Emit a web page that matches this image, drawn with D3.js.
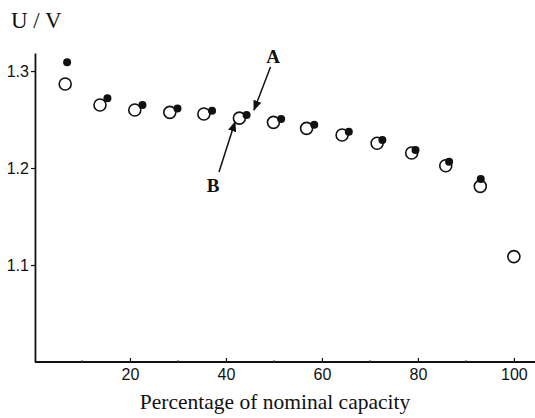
<!DOCTYPE html>
<html>
<head>
<meta charset="utf-8">
<script src="https://cdn.jsdelivr.net/npm/d3@7"></script>
<style>
  body { margin: 0; background: #fff; }
  svg { display: block; }
  .tick text { font-family: "Liberation Sans", Arial, sans-serif; font-size: 16px; fill: #111; }
</style>
</head>
<body>
<svg id="chart" width="535" height="418"></svg>
<script>
// capacity (%) and cell voltage for the two measurement sets
var capacityA = [6.9, 15.3, 22.6, 29.9, 37.1, 44.3, 51.5, 58.4, 65.6, 72.6, 79.5, 86.5, 93.1];
var voltageA  = [1.309, 1.272, 1.265, 1.2615, 1.259, 1.2546, 1.2505, 1.2446, 1.2374, 1.2289, 1.2186, 1.2065, 1.1887];

var capacityB = [6.5, 13.75, 21.0, 28.3, 35.4, 42.8, 49.9, 56.8, 64.2, 71.5, 78.7, 85.8, 93.0, 100.0];
var voltageB  = [1.2866, 1.265, 1.2598, 1.2574, 1.2557, 1.2515, 1.2471, 1.2409, 1.234, 1.2255, 1.2155, 1.2024, 1.1811, 1.1086];

var xTicks = [20, 40, 60, 80, 100];
var yTicks = [1.1, 1.2, 1.3];

var svg = d3.select('#chart');

var x = d3.scaleLinear().domain([0, 104.4]).range([34, 535]);
var y = d3.scaleLinear().domain([1.0, 1.3186]).range([362, 53]);

// axes
var xAxis = svg.append('g')
  .attr('transform', 'translate(0,' + y(1.0) + ')')
  .call(d3.axisBottom(x).tickValues(xTicks).tickSizeInner(-4).tickSizeOuter(0).tickPadding(7).tickFormat(d3.format('d')));
xAxis.select('.domain').attr('stroke', '#111').attr('stroke-width', 1.8).attr('d', 'M' + x(0.2) + ',0H535');
xAxis.selectAll('.tick line').attr('stroke', '#111').attr('stroke-width', 1.2);

// small minor ticks along the bottom
svg.append('g').selectAll('line')
  .data([10, 30, 50, 70, 90])
  .enter()
  .append('line')
  .attr('x1', function(d) { return x(d); })
  .attr('x2', function(d) { return x(d); })
  .attr('y1', y(1.0))
  .attr('y2', y(1.0) - 2)
  .attr('stroke', '#444')
  .attr('stroke-width', 1);

var yAxis = svg.append('g')
  .attr('transform', 'translate(' + x(0.2) + ',0)')
  .call(d3.axisLeft(y).tickValues(yTicks).tickSizeInner(4).tickSizeOuter(0).tickPadding(2).tickFormat(d3.format('.1f')));
yAxis.select('.domain').attr('stroke', '#111').attr('stroke-width', 1.8);
yAxis.selectAll('.tick line').attr('stroke', '#111').attr('stroke-width', 1.2);

// axis titles
svg.append('text')
  .attr('x', 11)
  .attr('y', 28)
  .attr('font-family', '"Liberation Serif", "Times New Roman", serif')
  .attr('font-size', 23)
  .attr('fill', '#111')
  .text('U / V');

svg.append('text')
  .attr('x', 275)
  .attr('y', 409)
  .attr('text-anchor', 'middle')
  .attr('font-family', '"Liberation Serif", "Times New Roman", serif')
  .attr('font-size', 21.5)
  .attr('fill', '#111')
  .text('Percentage of nominal capacity');

// open circles
svg.append('g').selectAll('circle')
  .data(capacityB)
  .enter()
  .append('circle')
  .attr('cx', function(d) { return x(d); })
  .attr('cy', function(d, i) { return y(voltageB[i]); })
  .attr('r', 6)
  .attr('fill', 'none')
  .attr('stroke', '#111')
  .attr('stroke-width', 1.6);

// filled dots
svg.append('g').selectAll('circle')
  .data(capacityA)
  .enter()
  .append('circle')
  .attr('cx', function(d) { return x(d); })
  .attr('cy', function(d, i) { return y(voltageA[i]); })
  .attr('r', 4)
  .attr('fill', '#111');

// arrow labels A and B
svg.append('defs').append('marker')
  .attr('id', 'head')
  .attr('viewBox', '0 0 10 10')
  .attr('refX', 9)
  .attr('refY', 5)
  .attr('markerWidth', 7)
  .attr('markerHeight', 7)
  .attr('orient', 'auto')
  .append('path')
  .attr('d', 'M0,1L10,5L0,9Z')
  .attr('fill', '#111');

var labels = [
  { t: 'A', tx: 273, ty: 63, x1: 270.5, y1: 67, x2: 254, y2: 110 },
  { t: 'B', tx: 213, ty: 192, x1: 219, y1: 172, x2: 235, y2: 122 }
];

svg.append('g').selectAll('line')
  .data(labels)
  .enter()
  .append('line')
  .attr('x1', function(d) { return d.x1; })
  .attr('y1', function(d) { return d.y1; })
  .attr('x2', function(d) { return d.x2; })
  .attr('y2', function(d) { return d.y2; })
  .attr('stroke', '#111')
  .attr('stroke-width', 1.5)
  .attr('marker-end', 'url(#head)');

svg.append('g').selectAll('text')
  .data(labels)
  .enter()
  .append('text')
  .attr('x', function(d) { return d.tx; })
  .attr('y', function(d) { return d.ty; })
  .attr('text-anchor', 'middle')
  .attr('font-family', '"Liberation Serif", "Times New Roman", serif')
  .attr('font-weight', 'bold')
  .attr('font-size', 19)
  .attr('fill', '#111')
  .text(function(d) { return d.t; });
</script>
</body>
</html>
